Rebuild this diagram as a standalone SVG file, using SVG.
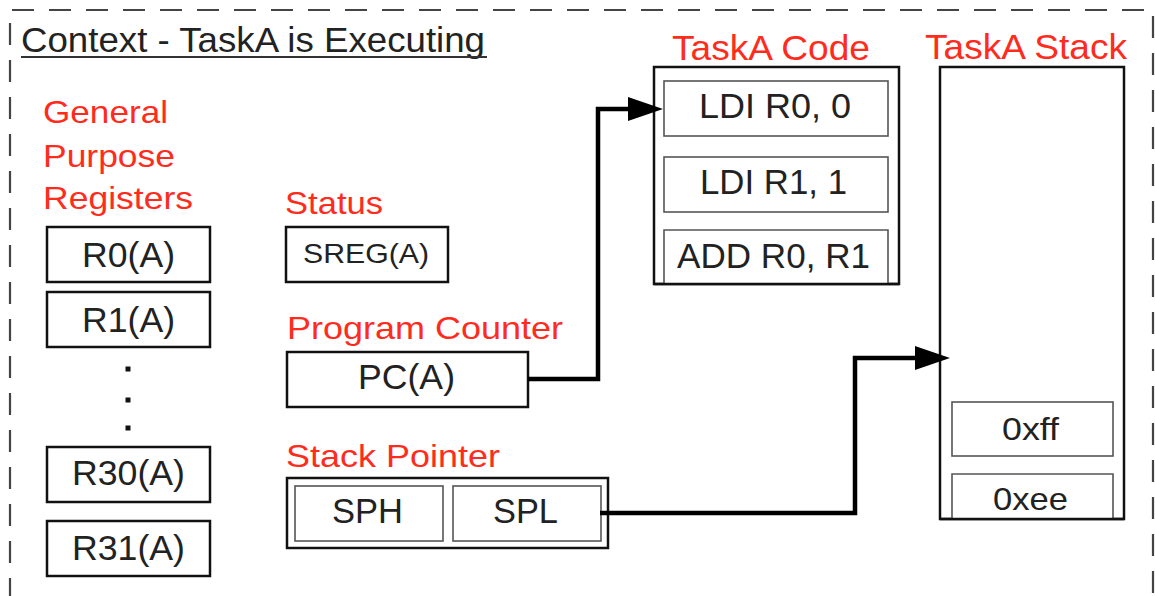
<svg xmlns="http://www.w3.org/2000/svg" width="1155" height="596" viewBox="0 0 1155 596">
<defs>
<marker id="arr" markerUnits="userSpaceOnUse" markerWidth="36" markerHeight="24" refX="5" refY="12" orient="auto">
<path d="M0,0 L35,12 L0,24 Z" fill="#000"/>
</marker>
<style>
text{font-family:"Liberation Sans",Arial,sans-serif}
.red{fill:#ff2b1c;font-size:32px}
.big{fill:#ff2b1c;font-size:35px}
.t{fill:#222;font-size:35px}
.s{fill:#222;font-size:32px}
.box{fill:#fff;stroke:#111;stroke-width:2.5}
.inner{fill:#fff;stroke:#555;stroke-width:1.6}
.conn{fill:none;stroke:#000;stroke-width:4.5;stroke-linejoin:miter}
</style>
</defs>
<rect width="1155" height="596" fill="#fff"/>
<path d="M10,600 V10 H1153 V600" fill="none" stroke="#444" stroke-width="2.2" stroke-dasharray="22 15"/>
<g id="title">
<text x="21" y="52" class="t" textLength="464" lengthAdjust="spacingAndGlyphs">Context - TaskA is Executing</text>
<line x1="21" y1="57" x2="487" y2="57" stroke="#333" stroke-width="2"/>
</g>
<g id="gpr-label">
<text x="43" y="123" class="red" textLength="125" lengthAdjust="spacingAndGlyphs">General</text>
<text x="43" y="167" class="red" textLength="132" lengthAdjust="spacingAndGlyphs">Purpose</text>
<text x="43" y="209" class="red" textLength="150" lengthAdjust="spacingAndGlyphs">Registers</text>
</g>
<g id="r0">
<rect class="box" x="47" y="227" width="163" height="55"/>
<text x="82" y="267" class="t" textLength="93" lengthAdjust="spacingAndGlyphs">R0(A)</text>
</g>
<g id="r1">
<rect class="box" x="47" y="292" width="163" height="55"/>
<text x="82" y="332" class="t" textLength="93" lengthAdjust="spacingAndGlyphs">R1(A)</text>
</g>
<g id="dots" fill="#111">
<rect x="125.5" y="366.5" width="5" height="5"/>
<rect x="125.5" y="397.5" width="5" height="5"/>
<rect x="125.5" y="425.5" width="5" height="5"/>
</g>
<g id="r30">
<rect class="box" x="47" y="447" width="163" height="55"/>
<text x="72" y="485" class="t" textLength="113" lengthAdjust="spacingAndGlyphs">R30(A)</text>
</g>
<g id="r31">
<rect class="box" x="47" y="521" width="163" height="55"/>
<text x="72" y="560" class="t" textLength="113" lengthAdjust="spacingAndGlyphs">R31(A)</text>
</g>
<g id="status">
<text x="285" y="214" class="red" textLength="98" lengthAdjust="spacingAndGlyphs">Status</text>
<rect class="box" x="286" y="227" width="162" height="55"/>
<text x="303" y="263" class="t" style="font-size:28px" textLength="126" lengthAdjust="spacingAndGlyphs">SREG(A)</text>
</g>
<g id="pc">
<text x="287" y="339" class="red" textLength="276" lengthAdjust="spacingAndGlyphs">Program Counter</text>
<rect class="box" x="287" y="352" width="241" height="55"/>
<text x="358" y="389" class="t" textLength="97" lengthAdjust="spacingAndGlyphs">PC(A)</text>
</g>
<g id="sp">
<text x="286" y="467" class="red" textLength="214" lengthAdjust="spacingAndGlyphs">Stack Pointer</text>
<rect class="box" x="287" y="478" width="321" height="70"/>
<rect class="inner" x="295" y="486" width="148" height="55"/>
<rect class="inner" x="453" y="486" width="148" height="55"/>
<text x="332" y="523" class="t" textLength="71" lengthAdjust="spacingAndGlyphs">SPH</text>
<text x="493" y="523" class="t" textLength="65" lengthAdjust="spacingAndGlyphs">SPL</text>
</g>
<g id="code">
<text x="672" y="60" class="big" textLength="198" lengthAdjust="spacingAndGlyphs">TaskA Code</text>
<rect class="box" x="654" y="67" width="245" height="217"/>
<rect class="inner" x="664" y="81" width="224" height="55"/>
<text x="699" y="118" class="t" textLength="152" lengthAdjust="spacingAndGlyphs">LDI R0, 0</text>
<rect class="inner" x="664" y="157" width="224" height="55"/>
<text x="700" y="194" class="t" textLength="147" lengthAdjust="spacingAndGlyphs">LDI R1, 1</text>
<path class="inner" d="M664,284 V230 H888 V284"/>
<text x="677" y="268" class="t" textLength="193" lengthAdjust="spacingAndGlyphs">ADD R0, R1</text>
<line x1="654" y1="284" x2="899" y2="284" stroke="#111" stroke-width="2.5"/>
</g>
<g id="stack">
<text x="925" y="59" class="big" textLength="202" lengthAdjust="spacingAndGlyphs">TaskA Stack</text>
<rect class="box" x="940" y="67" width="184" height="452"/>
<rect class="inner" x="952" y="402" width="161" height="54"/>
<text x="1002" y="440" class="s" textLength="57" lengthAdjust="spacingAndGlyphs">0xff</text>
<path class="inner" d="M952,519 V474 H1113 V519"/>
<text x="993" y="510" class="s" textLength="75" lengthAdjust="spacingAndGlyphs">0xee</text>
<line x1="940" y1="519" x2="1124" y2="519" stroke="#111" stroke-width="2.5"/>
</g>
<g id="connectors">
<path class="conn" d="M528,379 H598 V109 H633" marker-end="url(#arr)"/>
<path class="conn" d="M600,513 H855 V358 H920" marker-end="url(#arr)"/>
</g>
</svg>
